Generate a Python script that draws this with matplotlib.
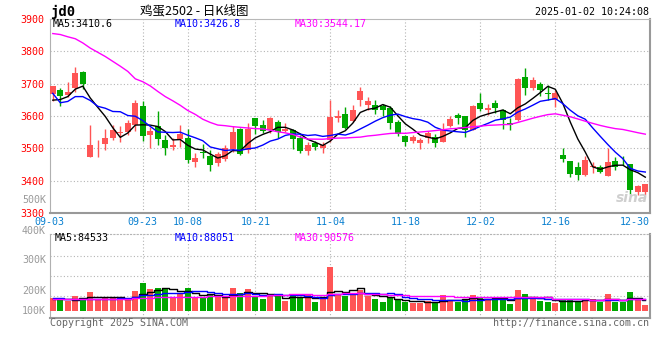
import numpy as np
import pandas as pd
import matplotlib
matplotlib.use("Agg")
import matplotlib.pyplot as plt
from matplotlib.transforms import ScaledTranslation

plt.rcParams['font.family'] = ['DejaVu Sans Mono', 'Noto Sans CJK SC']

# daily candles 2024-09-03 .. 2025-01-02 (jd2502)
opens = [3669, 3679, 3664, 3687, 3737, 3474, 3515, 3513, 3533, 3548,
         3549, 3572, 3630, 3541, 3568, 3525, 3503, 3528, 3533, 3459,
         3490, 3476, 3454, 3466, 3497, 3559, 3495, 3594, 3572, 3556,
         3581, 3553, 3558, 3531, 3493, 3517, 3500, 3525, 3595, 3605,
         3585, 3648, 3633, 3633, 3630, 3626, 3581, 3538, 3522, 3518,
         3531, 3534, 3520, 3568, 3602, 3599, 3558, 3640, 3620, 3640,
         3620, 3579, 3587, 3722, 3687, 3700, 3671, 3648, 3479, 3461,
         3443, 3418, 3442, 3443, 3413, 3461, 3468, 3450, 3366, 3366]
closes = [3694, 3662, 3674, 3732, 3700, 3510, 3518, 3533, 3558, 3551,
          3577, 3640, 3538, 3553, 3529, 3500, 3510, 3544, 3464, 3471,
          3486, 3447, 3482, 3500, 3551, 3482, 3559, 3569, 3554, 3594,
          3549, 3559, 3528, 3493, 3510, 3503, 3510, 3597, 3599, 3563,
          3620, 3676, 3645, 3618, 3618, 3579, 3544, 3520, 3536, 3525,
          3548, 3517, 3559, 3590, 3594, 3558, 3630, 3623, 3626, 3625,
          3589, 3572, 3715, 3686, 3710, 3679, 3668, 3671, 3467, 3421,
          3418, 3464, 3444, 3428, 3459, 3443, 3466, 3372, 3384, 3389]
highs = [3694, 3687, 3705, 3751, 3738, 3572, 3525, 3559, 3571, 3569,
         3589, 3651, 3645, 3566, 3615, 3541, 3533, 3571, 3559, 3486,
         3513, 3495, 3490, 3510, 3568, 3564, 3579, 3595, 3587, 3597,
         3589, 3577, 3561, 3541, 3521, 3522, 3521, 3648, 3618, 3628,
         3633, 3689, 3659, 3648, 3636, 3630, 3587, 3541, 3541, 3533,
         3553, 3543, 3577, 3599, 3609, 3600, 3633, 3671, 3636, 3650,
         3621, 3595, 3717, 3748, 3720, 3705, 3697, 3679, 3500, 3461,
         3459, 3476, 3459, 3448, 3500, 3474, 3476, 3453, 3387, 3389]
lows = [3645, 3631, 3660, 3674, 3684, 3474, 3474, 3495, 3525, 3520,
        3541, 3554, 3522, 3500, 3510, 3479, 3495, 3503, 3456, 3443,
        3471, 3431, 3445, 3462, 3489, 3479, 3486, 3543, 3546, 3546,
        3531, 3551, 3499, 3485, 3480, 3495, 3487, 3520, 3582, 3559,
        3582, 3630, 3618, 3605, 3600, 3559, 3538, 3507, 3515, 3497,
        3515, 3505, 3520, 3566, 3575, 3536, 3556, 3616, 3602, 3609,
        3559, 3558, 3585, 3664, 3681, 3661, 3648, 3628, 3459, 3410,
        3401, 3413, 3423, 3425, 3413, 3433, 3448, 3360, 3355, 3355]
volumes = [102000, 102000, 76000, 115000, 90000, 145000, 90000, 102000, 97000, 90000,
           90000, 153000, 214000, 168000, 176000, 168000, 102000, 140000, 176000, 102000,
           102000, 120000, 120000, 102000, 176000, 140000, 168000, 115000, 92000, 115000,
           115000, 76000, 122000, 109000, 122000, 69000, 92000, 339000, 122000, 117000,
           122000, 161000, 117000, 92000, 69000, 102000, 84000, 71000, 59000, 59000,
           79000, 71000, 122000, 84000, 71000, 92000, 122000, 102000, 84000, 90000,
           92000, 56000, 161000, 130000, 90000, 76000, 69000, 63000, 84000, 92000,
           71000, 92000, 92000, 71000, 130000, 71000, 71000, 145000, 90000, 46000]

# moving averages before the first visible day
ma5_head = [3649, 3651, 3660, 3683]
ma10_head = [3670, 3641, 3645, 3660, 3660, 3648, 3630, 3624, 3614]
ma30_head = [3855, 3852, 3845, 3839, 3826, 3810, 3797, 3784, 3769, 3754,
             3738, 3715, 3706, 3693, 3676, 3660, 3647, 3633, 3617, 3605,
             3590, 3580, 3572, 3570, 3567, 3565, 3563, 3561, 3560]
vma5_head = [90000, 90000, 88000, 86000]
vma10_head = [100000, 98000, 94000, 93000, 93000, 93000, 93000, 92000, 92000]
vma30_head = [95000] * 11 + [100000] * 3 + [108000] * 7 + [115000] * 8

tick_idx = [0, 12, 18, 27, 37, 47, 57, 67, 77]
tick_lbl = ['09-03', '09-23', '10-08', '10-21', '11-04', '11-18', '12-02', '12-16', '12-30']
price_ticks = [3300, 3400, 3500, 3600, 3700, 3800, 3900]
vol_lbl = ['500K', '400K', '300K', '200K', '100K']

title = '鸡蛋2502 - 日K线图'
stamp = '2025-01-02 10:24:08'
ma_txt = ['MA5:3410.6', 'MA10:3426.8', 'MA30:3544.17']
vma_txt = ['MA5:84533', 'MA10:88051', 'MA30:90576']


def moving(vals, n, head):
    s = pd.Series(vals, dtype=float).rolling(n).mean().to_numpy()
    s[:n - 1] = head
    return s


RED = '#ff5555'
GREEN = '#00a800'
GRID = '#b4b4b4'
x = np.arange(len(closes))
o = np.array(opens); c = np.array(closes)
up = c >= o
cols = np.where(up, RED, GREEN)

fig = plt.figure(figsize=(6.6, 3.6), dpi=100)
W, H = 660, 360
fx = lambda px: px / W
fy = lambda py: 1 - py / H

ax = fig.add_axes([fx(50), fy(213), 599.5 / W, 194 / H])
axv = fig.add_axes([fx(50), fy(318), 599.5 / W, 84 / H])

# candles
body_lo = np.minimum(o, c)
body_h = np.maximum(np.abs(c - o), 2)
ax.vlines(x, lows, highs, colors=cols, lw=1, zorder=2)
ax.bar(x, body_h, bottom=body_lo, width=0.76, color=cols, lw=0, zorder=3)

ax.plot(x, moving(closes, 5, ma5_head), color='black', lw=1, zorder=4)
ax.plot(x, moving(closes, 10, ma10_head), color='blue', lw=1, zorder=4)
ax.plot(x, moving(closes, 30, ma30_head), color='magenta', lw=1, zorder=4)

# volume
axv.bar(x, volumes, width=0.76, color=cols, lw=0, zorder=3)
axv.plot(x, moving(volumes, 5, vma5_head), color='black', lw=1, drawstyle='steps-mid', zorder=4)
axv.plot(x, moving(volumes, 10, vma10_head), color='blue', lw=1, drawstyle='steps-mid', zorder=4)
axv.plot(x, moving(volumes, 30, vma30_head), color='magenta', lw=1, drawstyle='steps-mid', zorder=4)

for a in (ax, axv):
    a.set_xlim(-0.37, 79.56)
    a.set_facecolor('white')
    for i in tick_idx[1:-1]:
        a.axvline(i, color=GRID, lw=0.8, ls=(0, (1, 2)), zorder=1)
    a.spines['left'].set_color('#b0b0b0')
    a.spines['right'].set_color('#999999')
    a.spines['right'].set_linewidth(1.5)
    a.spines['bottom'].set_color('#999999')
    a.spines['bottom'].set_linewidth(1.5)
    a.tick_params(length=0)

ax.set_ylim(3300, 3900)
for p in price_ticks[1:-1]:
    ax.axhline(p, color=GRID, lw=0.8, ls=(0, (1, 2)), zorder=1)
ax.spines['top'].set_color('#b8b8b8')
ax.set_yticks(price_ticks)
ax.set_yticklabels([str(p) for p in price_ticks], color='red', fontsize=7.2)
ax.tick_params(axis='y', pad=4)
ax.set_xticks(tick_idx)
ax.set_xticklabels(tick_lbl, color='#0a80d0', fontsize=7.2)
ax.tick_params(axis='x', pad=3)
lbls = ax.get_xticklabels()
lbls[0].set_transform(lbls[0].get_transform() + ScaledTranslation(-3 / 100, 0, fig.dpi_scale_trans))
lbls[-1].set_transform(lbls[-1].get_transform() + ScaledTranslation(4 / 100, 0, fig.dpi_scale_trans))

# volume axis: 0 sits a bit above the bottom frame
k = 7650
axv.set_ylim(-7 * k, 76.7 * k)
for g in (15, 35, 55):
    axv.axhline(g * k, color=GRID, lw=0.8, ls=(0, (1, 2)), zorder=1)
axv.spines['top'].set_color(GRID)
axv.spines['top'].set_linestyle((0, (1, 2)))
axv.set_xticks([])
axv.set_yticks([])

for lab, py in zip(vol_lbl, [200, 231, 260, 291, 311]):
    fig.text(fx(46), fy(py), lab, color='#9a9a9a', fontsize=7.2, ha='right', va='center')

ax.text(0.997, 0.04, 'sina', transform=ax.transAxes, ha='right', va='bottom',
        fontsize=10, style='italic', weight='bold', color='#cfcfcf',
        family='DejaVu Sans', zorder=5)

# header texts
fig.text(fx(50), fy(12), 'jd0', fontsize=10, weight='bold', va='center')
fig.text(fx(140), fy(11), title, fontsize=9, va='center',
         family=['Noto Sans CJK SC', 'DejaVu Sans'])
fig.text(fx(649), fy(12), stamp, fontsize=7.2, ha='right', va='center')
for t, px, col in zip(ma_txt, [53, 175, 295], ['black', 'blue', 'magenta']):
    fig.text(fx(px), fy(24), t, fontsize=7.2, color=col, va='center')
for t, px, col in zip(vma_txt, [55, 175, 295], ['black', 'blue', 'magenta']):
    fig.text(fx(px), fy(238), t, fontsize=7.2, color=col, va='center')

fig.text(fx(50), fy(323.5), 'Copyright 2025 SINA.COM', fontsize=7.2, color='#666666', va='center')
fig.text(fx(649), fy(323.5), 'http://finance.sina.com.cn', fontsize=7.2, color='#666666',
         ha='right', va='center')

fig.savefig('out.png', dpi=100, facecolor='white')
